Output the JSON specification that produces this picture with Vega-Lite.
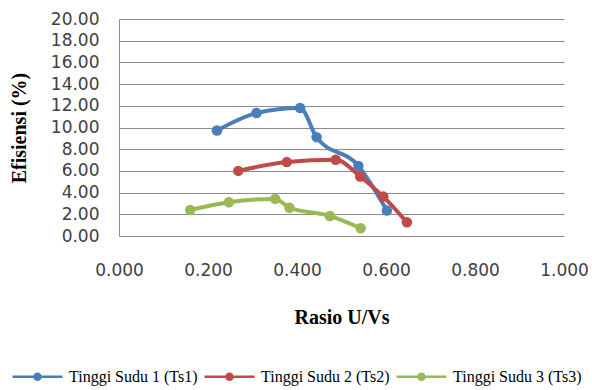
{
  "$schema": "https://vega.github.io/schema/vega-lite/v6.json",
  "width": 445,
  "height": 217,
  "autosize": {"type": "none"},
  "padding": {"left": 119, "top": 19, "right": 28, "bottom": 154},
  "background": "white",
  "config": {"view": {"stroke": null}},
  "data": {
    "values": [
      {"seri": "Tinggi Sudu 1 (Ts1)", "rasio": 0.220, "efisiensi": 9.72},
      {"seri": "Tinggi Sudu 1 (Ts1)", "rasio": 0.309, "efisiensi": 11.33},
      {"seri": "Tinggi Sudu 1 (Ts1)", "rasio": 0.407, "efisiensi": 11.79},
      {"seri": "Tinggi Sudu 1 (Ts1)", "rasio": 0.444, "efisiensi": 9.11},
      {"seri": "Tinggi Sudu 1 (Ts1)", "rasio": 0.538, "efisiensi": 6.46},
      {"seri": "Tinggi Sudu 1 (Ts1)", "rasio": 0.602, "efisiensi": 2.34},
      {"seri": "Tinggi Sudu 2 (Ts2)", "rasio": 0.268, "efisiensi": 6.00},
      {"seri": "Tinggi Sudu 2 (Ts2)", "rasio": 0.377, "efisiensi": 6.81},
      {"seri": "Tinggi Sudu 2 (Ts2)", "rasio": 0.487, "efisiensi": 7.02},
      {"seri": "Tinggi Sudu 2 (Ts2)", "rasio": 0.542, "efisiensi": 5.48},
      {"seri": "Tinggi Sudu 2 (Ts2)", "rasio": 0.594, "efisiensi": 3.63},
      {"seri": "Tinggi Sudu 2 (Ts2)", "rasio": 0.647, "efisiensi": 1.26},
      {"seri": "Tinggi Sudu 3 (Ts3)", "rasio": 0.160, "efisiensi": 2.40},
      {"seri": "Tinggi Sudu 3 (Ts3)", "rasio": 0.247, "efisiensi": 3.11},
      {"seri": "Tinggi Sudu 3 (Ts3)", "rasio": 0.351, "efisiensi": 3.42},
      {"seri": "Tinggi Sudu 3 (Ts3)", "rasio": 0.383, "efisiensi": 2.61},
      {"seri": "Tinggi Sudu 3 (Ts3)", "rasio": 0.474, "efisiensi": 1.85},
      {"seri": "Tinggi Sudu 3 (Ts3)", "rasio": 0.543, "efisiensi": 0.71}
    ]
  },
  "encoding": {
    "x": {
      "field": "rasio",
      "type": "quantitative",
      "scale": {"domain": [0, 1], "nice": false},
      "axis": {
        "title": "Rasio U/Vs",
        "values": [0, 0.2, 0.4, 0.6, 0.8, 1],
        "format": ".3f",
        "grid": false,
        "domain": false,
        "ticks": false,
        "labelPadding": 26,
        "labelFlush": false,
        "labelOverlap": false,
        "labelFont": "DejaVu Sans",
        "labelFontSize": 17,
        "labelColor": "#404040",
        "titleFont": "Liberation Serif",
        "titleFontSize": 20,
        "titleFontWeight": "bold",
        "titleColor": "black",
        "titleY": 87,
        "titleBaseline": "alphabetic"
      }
    },
    "y": {
      "field": "efisiensi",
      "type": "quantitative",
      "scale": {"domain": [0, 20], "nice": false},
      "axis": {
        "title": "Efisiensi (%)",
        "values": [0, 2, 4, 6, 8, 10, 12, 14, 16, 18, 20],
        "format": ".2f",
        "grid": true,
        "gridColor": "#8c8c8c",
        "gridWidth": 1,
        "domainColor": "#8c8c8c",
        "ticks": false,
        "labelPadding": 20,
        "labelOverlap": false,
        "labelFont": "DejaVu Sans",
        "labelFontSize": 17,
        "labelColor": "#404040",
        "titleFont": "Liberation Serif",
        "titleFontSize": 20,
        "titleFontWeight": "bold",
        "titleColor": "black",
        "titleX": -100,
        "titleY": 108.5,
        "titleAngle": -90,
        "titleAlign": "center",
        "titleBaseline": "middle"
      }
    },
    "color": {
      "field": "seri",
      "type": "nominal",
      "scale": {
        "domain": ["Tinggi Sudu 1 (Ts1)", "Tinggi Sudu 2 (Ts2)", "Tinggi Sudu 3 (Ts3)"],
        "range": ["#4A7EBB", "#BE4B48", "#98B954"]
      },
      "legend": {
        "title": null,
        "orient": "none",
        "direction": "horizontal",
        "legendX": -108,
        "legendY": 331,
        "symbolType": "M-1,0H1M-0.12,0A0.12,0.12 0 1,1 0.12,0A0.12,0.12 0 1,1 -0.12,0Z",
        "symbolSize": 2500,
        "symbolStrokeWidth": 2.5,
        "labelFont": "Liberation Serif",
        "labelFontSize": 16,
        "labelColor": "black",
        "labelOffset": 5,
        "columnPadding": 1,
        "encode": {
          "symbols": {
            "update": {
              "fill": {"scale": "color", "field": "value"},
              "stroke": {"scale": "color", "field": "value"},
              "opacity": {"value": 1}
            }
          },
          "labels": {
            "update": {
              "font": {"value": "Liberation Serif"}
            }
          }
        }
      }
    }
  },
  "layer": [
    {"mark": {"type": "line", "interpolate": "monotone", "strokeWidth": 4}},
    {"mark": {"type": "point", "filled": true, "size": 110, "opacity": 1}}
  ]
}
